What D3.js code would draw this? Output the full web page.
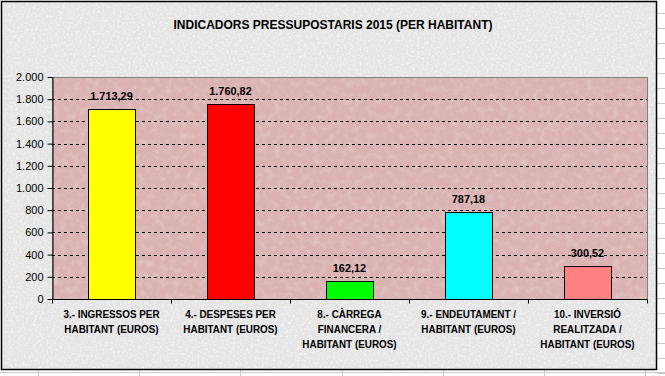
<!DOCTYPE html>
<html><head><meta charset="utf-8">
<script src="https://cdn.jsdelivr.net/npm/d3@7"></script>
<style>
html,body{margin:0;padding:0;background:#fff;}
svg{display:block;}
</style></head>
<body>
<svg id="chart" width="665" height="376"></svg>
<script>
const title = "INDICADORS PRESSUPOSTARIS 2015 (PER HABITANT)";
const categories = [
  ["3.- INGRESSOS PER", "HABITANT (EUROS)"],
  ["4.- DESPESES PER", "HABITANT (EUROS)"],
  ["8.- CÀRREGA", "FINANCERA /", "HABITANT (EUROS)"],
  ["9.- ENDEUTAMENT /", "HABITANT (EUROS)"],
  ["10.- INVERSIÓ", "REALITZADA /", "HABITANT (EUROS)"]
];
const values = [1713.29, 1760.82, 162.12, 787.18, 300.52];
const barColors = ["#ffff00", "#ff0000", "#00ff00", "#00ffff", "#ff8080"];
const yTicks = [0, 200, 400, 600, 800, 1000, 1200, 1400, 1600, 1800, 2000];

const W = 665, H = 376;
const chartBox = {x: 1, y: 1, w: 655, h: 368};
const plot = {left: 52, top: 77, right: 647, bottom: 299};
const fontBold = "'Liberation Sans', Arial, sans-serif";
const fontReg = "'Liberation Sans', Arial, sans-serif";

const loc = d3.formatLocale({decimal: ",", thousands: ".", grouping: [3], currency: ["", ""]});
const fmtTick = loc.format(",.0f");
const fmtVal = loc.format(",.2f");

const svg = d3.select("#chart");
const defs = svg.append("defs");

function noiseFilter(id, freq, amount, seed) {
  const f = defs.append("filter").attr("id", id).attr("x", 0).attr("y", 0).attr("width", 1).attr("height", 1);
  f.append("feTurbulence").attr("type", "fractalNoise").attr("baseFrequency", freq)
    .attr("numOctaves", 3).attr("seed", seed).attr("result", "noise");
  f.append("feColorMatrix").attr("in", "noise").attr("type", "matrix")
    .attr("values", `0 0 0 0 1  0 0 0 0 1  0 0 0 0 1  ${amount} 0 0 0 ${-amount*0.45}`)
    .attr("result", "light");
  f.append("feComposite").attr("in", "light").attr("in2", "SourceGraphic").attr("operator", "atop");
}
noiseFilter("noiseGray", 0.45, 1.4, 3);
noiseFilter("noisePink", 0.15, 0.45, 7);

// spreadsheet grid outside the chart
const grid = svg.append("g").attr("stroke", "#c8c8c8").attr("stroke-width", 1);
[13, 28, 43, 58, 73, 88, 103, 118, 133, 148, 163, 178, 193, 208, 223, 238, 253, 268, 283, 298, 313, 328, 343, 358, 373]
  .forEach(y => grid.append("line").attr("x1", 657).attr("x2", W).attr("y1", y + 0.5).attr("y2", y + 0.5));
grid.append("line").attr("x1", 0).attr("x2", W).attr("y1", 372.5).attr("y2", 372.5);
[38, 139, 240, 342, 443, 544, 645].forEach(x => grid.append("line").attr("x1", x + 0.5).attr("x2", x + 0.5).attr("y1", 370).attr("y2", H));

// chart area
svg.append("rect").attr("x", chartBox.x).attr("y", chartBox.y).attr("width", chartBox.w).attr("height", chartBox.h)
  .attr("fill", "#e4e4e4").attr("filter", "url(#noiseGray)");
svg.append("rect").attr("x", chartBox.x + 0.5).attr("y", chartBox.y + 0.5).attr("width", chartBox.w).attr("height", chartBox.h)
  .attr("fill", "none").attr("stroke", "#000").attr("stroke-width", 1.5);

// title
svg.append("text").attr("x", 333).attr("y", 29).attr("text-anchor", "middle")
  .attr("font-family", fontBold).attr("font-weight", "bold").attr("font-size", 12).attr("fill", "#000")
  .text(title);

// scales
const x = d3.scaleBand().domain(d3.range(values.length)).range([plot.left, plot.right]).padding(0);
const y = d3.scaleLinear().domain([0, 2000]).range([plot.bottom, plot.top]);

// plot area
svg.append("rect").attr("x", plot.left).attr("y", plot.top).attr("width", plot.right - plot.left).attr("height", plot.bottom - plot.top)
  .attr("fill", "#dab2b2").attr("filter", "url(#noisePink)");
svg.append("rect").attr("x", plot.left + 0.5).attr("y", plot.top + 0.5).attr("width", plot.right - plot.left).attr("height", plot.bottom - plot.top)
  .attr("fill", "none").attr("stroke", "#808080").attr("stroke-width", 1);

// gridlines
svg.append("g").selectAll("line").data(yTicks.filter(t => t > 0 && t < 2000)).join("line")
  .attr("x1", plot.left).attr("x2", plot.right)
  .attr("y1", d => Math.round(y(d)) + 0.5).attr("y2", d => Math.round(y(d)) + 0.5)
  .attr("stroke", "#000").attr("stroke-dasharray", "3,3");

// bars
const bw = x.bandwidth() * 0.395;
svg.append("g").selectAll("rect").data(values).join("rect")
  .attr("x", (d, i) => Math.round(x(i) + (x.bandwidth() - bw) / 2) + 0.5)
  .attr("y", d => Math.round(y(d)) + 0.5)
  .attr("width", Math.round(bw))
  .attr("height", d => Math.round(y(0)) - Math.round(y(d)))
  .attr("fill", (d, i) => barColors[i]).attr("stroke", "#000").attr("stroke-width", 1);

// value labels
svg.append("g").selectAll("text").data(values).join("text")
  .attr("transform", (d, i) => `translate(${x(i) + x.bandwidth() / 2},${y(d) - 9}) scale(0.95,1)`)
  .attr("text-anchor", "middle")
  .attr("font-family", fontBold).attr("font-weight", "bold").attr("font-size", 11.5).attr("fill", "#000")
  .text(d => fmtVal(d));

// y axis
const yAxis = svg.append("g").attr("transform", `translate(${plot.left + 0.5},0)`)
  .call(d3.axisLeft(y).tickValues(yTicks).tickFormat(fmtTick).tickSize(5).tickSizeOuter(0).tickPadding(4));
yAxis.select(".domain").attr("stroke", "#000");
yAxis.selectAll("line").attr("stroke", "#000");
yAxis.selectAll("text").attr("font-family", fontReg).attr("font-size", 11).attr("fill", "#000");

// x axis
const xAxis = svg.append("g").attr("transform", `translate(0,${plot.bottom + 0.5})`);
xAxis.append("line").attr("x1", plot.left).attr("x2", plot.right).attr("stroke", "#000");
xAxis.selectAll("line.tk").data(d3.range(values.length + 1)).join("line").attr("class", "tk")
  .attr("x1", i => (i < values.length ? x(i) : plot.right) + 0.5)
  .attr("x2", i => (i < values.length ? x(i) : plot.right) + 0.5)
  .attr("y1", 0).attr("y2", 4).attr("stroke", "#000");

// category labels
const labels = svg.append("g");
categories.forEach((lines, i) => {
  const t = labels.append("text").attr("text-anchor", "middle")
    .attr("transform", `translate(${x(i) + x.bandwidth() / 2},0) scale(0.86,1)`)
    .attr("font-family", fontBold).attr("font-weight", "bold").attr("font-size", 11.5).attr("fill", "#000");
  lines.forEach((ln, j) => {
    t.append("tspan").attr("x", 0).attr("y", 318 + j * 15).text(ln);
  });
});
</script>
</body></html>
